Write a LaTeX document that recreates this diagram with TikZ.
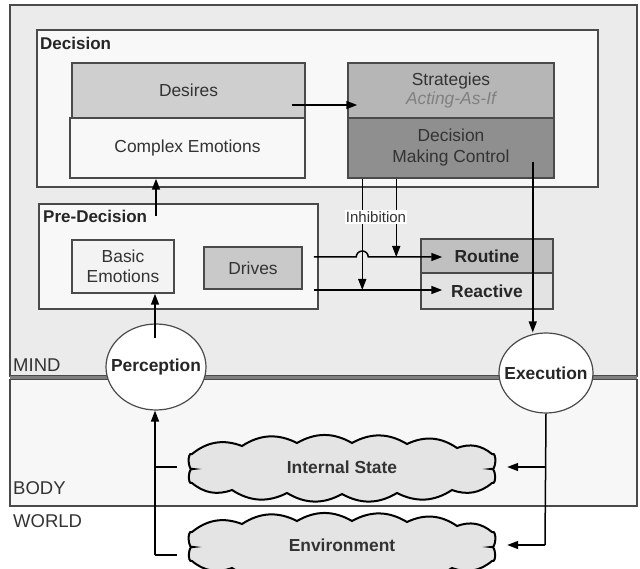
\documentclass[tikz,border=0pt]{standalone}
\usepackage{fontspec}
\setmainfont{Liberation Sans}
\usetikzlibrary{arrows.meta,shapes.geometric,calc}
\definecolor{framegray}{HTML}{4A4A4A}
\definecolor{textgray}{HTML}{333333}
\definecolor{mindfill}{HTML}{EBEBEB}
\definecolor{bodyfill}{HTML}{F7F7F7}
\definecolor{panelfill}{HTML}{F8F8F8}
\definecolor{desirefill}{HTML}{CFCFCF}
\definecolor{stratfill}{HTML}{B6B6B6}
\definecolor{controlfill}{HTML}{8F8F8F}
\definecolor{drivefill}{HTML}{C9C9C9}
\definecolor{routinefill}{HTML}{C0C0C0}
\definecolor{reactfill}{HTML}{E3E3E3}
\definecolor{cloudfill}{HTML}{E4E4E4}
\tikzset{
  zone/.style={draw=framegray, line width=1.3pt},
  zonelabel/.style={anchor=base west, inner sep=0, font=\fontsize{18.5}{20}\selectfont, text=textgray},
  panel/.style={draw=framegray, line width=1.5pt, fill=panelfill, inner sep=0},
  title/.style={anchor=base west, inner sep=0, font=\bfseries\fontsize{17}{20}\selectfont, text=black!85},
  box/.style={draw=framegray, line width=1.5pt, inner sep=0, align=center,
    font=\fontsize{17.4}{20}\selectfont, text=textgray},
  boldbox/.style={box, font=\bfseries\fontsize{17.4}{20}\selectfont, text=black!85},
  oval/.style={ellipse, draw=framegray, line width=1.2pt, fill=white, inner sep=0},
  ovaltext/.style={inner sep=0, font=\bfseries\fontsize{17.4}{20}\selectfont, text=black!85},
  cloudtext/.style={inner sep=0, minimum width=330, minimum height=50,
    font=\bfseries\fontsize{17.4}{20}\selectfont, text=black!80},
  puffline/.style={draw=black, line width=2pt, fill=cloudfill},
  link/.style={draw=black, line width=1.5pt},
  puffy/.pic={
    \draw[puffline] (-150,-13) to[bend left=30] (-100,-21) to[bend left=30] (-45,-24)
      to[bend left=30] (10,-24) to[bend left=30] (65,-23) to[bend left=30] (115,-19)
      to[bend left=30] (150,-13)
      to[bend left=120] (149,2) to[bend left=120] (150,16)
      to[bend left=30] (110,23) to[bend left=30] (55,26) to[bend left=30] (0,27)
      to[bend left=30] (-55,26) to[bend left=30] (-110,23) to[bend left=30] (-150,16)
      to[bend left=120] (-149,2) to[bend left=120] (-150,-13) -- cycle;
  }
}
\begin{document}
\begin{tikzpicture}[x=1pt,y=-1pt,>={Triangle[length=11pt,width=8pt]}]
  \useasboundingbox (0,0) rectangle (640,569);
  % layers of the agent
  \draw[zone, fill=mindfill] (10,5) rectangle (637,376);
  \draw[zone, fill=bodyfill] (10,379.5) rectangle (637,506);
  \draw[gray, line width=2.5pt] (10,377.7) -- (637,377.7);
  \node[zonelabel] (mindlbl) at (13,371) {MIND};
  \node[zonelabel] (bodylbl) at (13,494) {BODY};
  \node[zonelabel] (worldlbl) at (13,527) {WORLD};

  % decision
  \node[panel, minimum width=561, minimum height=157] (decision) at (317.5,108.5) {};
  \node[title] (declbl) at (40,50) {Decision};
  \node[box, fill=desirefill, minimum width=233, minimum height=55] (desires) at (188.5,90.5) {Desires};
  \node[box, fill=panelfill, minimum width=235, minimum height=60] (complex) at (187.5,148) {Complex Emotions};
  \node[box, fill=stratfill, minimum width=206, minimum height=55] (strategies) at (451,90.5)
    {Strategies\\[-1pt]{\color{black!50}\itshape Acting-As-If}};
  \node[box, fill=controlfill, minimum width=206, minimum height=60] (control) at (451,148)
    {Decision\\[1pt]Making Control};

  % pre-decision
  \node[panel, minimum width=279, minimum height=105] (predecision) at (178.5,256.5) {};
  \node[title] (prelbl) at (43,223) {Pre-Decision};
  \node[box, fill=panelfill!98!black, minimum width=102, minimum height=53] (basic) at (123,266.5) {Basic\\Emotions};
  \node[box, fill=drivefill, minimum width=98, minimum height=42] (drives) at (253,268) {Drives};
  \node[boldbox, fill=routinefill, minimum width=132, minimum height=34] (routine) at (487,256) {Routine};
  \node[boldbox, fill=reactfill, minimum width=132, minimum height=36] (reactive) at (487,291) {Reactive};

  % interface and body
  \node[oval, minimum width=100, minimum height=86] (perception) at (156,367) {};
  \node[ovaltext] (perclbl) at (perception) {Perception};
  \node[oval, minimum width=94, minimum height=80] (execution) at (546,373) {};
  \node[ovaltext] (execlbl) at (execution) {Execution};
  \pic at (342,467) {puffy};
  \node[cloudtext] (internal) at (342,467) {Internal State};
  \pic at (342,545) {puffy};
  \node[cloudtext] (environment) at (342,545) {Environment};

  % connectors
  \coordinate (desout) at ($(desires.east)+(-14,14.5)$);
  \coordinate (stratin) at ($(strategies.west)+(10,14.5)$);
  \draw[link,->] (desout) -- (stratin);
  \coordinate (preout) at (156,216);
  \draw[link,->] (preout) -- (preout |- complex.south);
  \coordinate (percout) at (155,338);
  \draw[link,->] (percout) -- (percout |- basic.south);

  \coordinate (inhA) at ($(control.south west)+(15,0)$);
  \coordinate (inhB) at ($(control.south west)+(49,0)$);
  \coordinate (driveA) at ($(drives.east)+(11,-11)$);
  \coordinate (driveB) at ($(drives.east)+(11,22)$);
  \coordinate (routin) at ($(routine.west)+(22,1)$);
  \coordinate (reactin) at ($(reactive.west)+(22,-1)$);
  \draw[link,->] (inhA) -- (inhA |- reactin);
  \draw[link,->] (inhB) -- (inhB |- routin);
  \draw[link,->] (driveA) -- ($(inhA |- routin)+(-6,0)$) arc (180:360:6) -- (routin);
  \draw[link,->] (driveB) -- (reactin);
  \node[fill=white, inner sep=1pt, font=\fontsize{15}{16}\selectfont, text=textgray] (inhlbl) at (376,217) {Inhibition};

  \coordinate (ctrlout) at ($(control.south east)+(-22,-17)$);
  \draw[link,->] (ctrlout) -- (ctrlout |- execution.north);

  % feedback loop through body and world
  \coordinate (envleft) at (155,555);
  \coordinate (execdown) at (545,545);
  \draw[link,->] (envleft) -- (envleft |- perception.south);
  \draw[link] (envleft |- internal.west) -- (internal.west);
  \draw[link] (envleft) -- (envleft -| environment.west);
  \draw[link] (execution.south) -- (execdown);
  \draw[link,->] (execdown |- internal.east) -- (internal.east);
  \draw[link,->] (execdown) -- (environment.east);
\end{tikzpicture}
\end{document}
